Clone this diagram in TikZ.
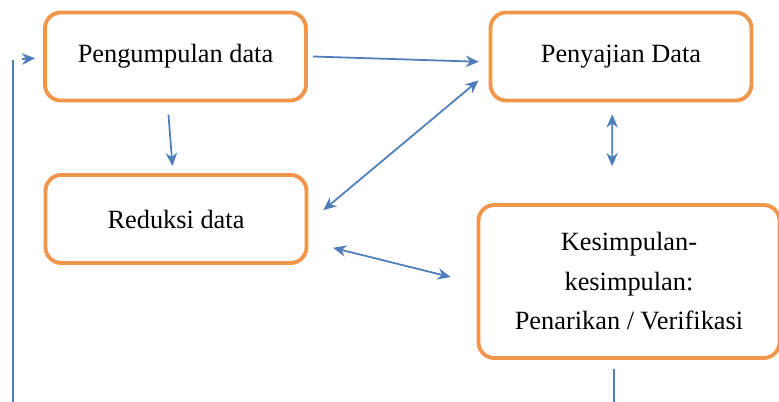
\documentclass[tikz,border=0pt]{standalone}
\usepackage{fontspec}
\setmainfont{Liberation Serif}
\usetikzlibrary{arrows.meta}
\definecolor{boxorange}{RGB}{240,150,75}
\definecolor{arrowblue}{RGB}{79,125,185}
\tikzset{
    stagebox/.style={draw=boxorange, line width=2.2pt, rounded corners=9pt, fill=white,
        minimum width=5.22cm, minimum height=1.76cm, align=center,
        font=\fontsize{15}{22.5}\selectfont},
    arr/.style={-{Stealth[length=7.5pt,width=6.5pt]}, draw=arrowblue, line width=1pt},
    darr/.style={{Stealth[length=7.5pt,width=6.5pt]}-{Stealth[length=7.5pt,width=6.5pt]}, draw=arrowblue, line width=1pt}
}
\begin{document}
\begin{tikzpicture}
    % Fix the frame
    \useasboundingbox (0,0) rectangle (15.58,8.02);
    \clip (0,0) rectangle (15.58,8.02);

    % Draw stages
    \node[stagebox] (peng) at (3.51,6.89) {Pengumpulan data};
    \node[stagebox] (red) at (3.52,3.64) {Reduksi data};
    \node[stagebox] (peny) at (12.42,6.89) {Penyajian Data};
    \node[stagebox, minimum width=6.02cm, minimum height=3.06cm] (kes) at (12.58,2.39)
        {Kesimpulan-\\kesimpulan:\\Penarikan / Verifikasi};

    % Flow arrows
    \draw[arr] ([xshift=3pt]peng.east) -- ([xshift=-5.5pt,yshift=-3pt]peny.west);
    \draw[arr] ([xshift=-4pt,yshift=-7pt]peng.south) -- ([xshift=-2pt,yshift=4pt]red.north);
    \draw[darr] ([xshift=8.5pt,yshift=5pt]red.east) -- ([xshift=-5.7pt,yshift=-13.6pt]peny.west);
    \draw[darr] ([xshift=-5pt,yshift=-6.8pt]peny.south) -- ([xshift=-9.6pt,yshift=21pt]kes.north);
    \draw[darr] ([xshift=14pt,yshift=-16.4pt]red.east) -- ([xshift=-14.7pt,yshift=2.5pt]kes.west);

    % Feedback loop
    \coordinate (fbtop) at (0.26,6.82);
    \coordinate (fbin) at (0.44,6.84);
    \draw[arrowblue, line width=1pt] ([xshift=-8.5pt,yshift=-5pt]kes.south) -- ++(0,-3) -| (fbtop);
    \draw[arr] (fbin) -- ([xshift=-4.5pt,yshift=-1pt]peng.west);
\end{tikzpicture}
\end{document}
